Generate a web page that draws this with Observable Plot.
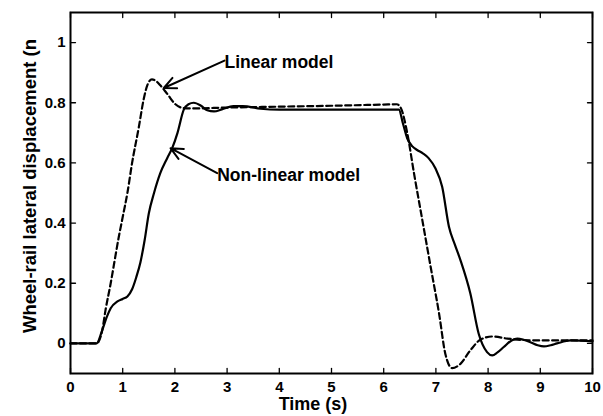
<!DOCTYPE html>
<html>
<head>
<meta charset="utf-8">
<script src="https://cdn.jsdelivr.net/npm/d3@7"></script>
<script src="https://cdn.jsdelivr.net/npm/@observablehq/plot@0.6"></script>
<style>
  html, body { margin: 0; padding: 0; background: #fff; }
  #chart { width: 603px; height: 416px; }
</style>
</head>
<body>
<div id="chart"></div>
<script>
// Linear model (dashed)
const linearT = [0, 0.5, 0.61, 0.67, 0.77, 0.86, 0.91, 1.0, 1.09, 1.18, 1.31, 1.40, 1.48, 1.56, 1.64, 1.72, 1.85, 2.01, 2.14, 2.3, 3.0, 4.0, 5.0, 6.0, 6.25, 6.33, 6.45, 6.58, 6.74, 6.90, 7.06, 7.18, 7.31, 7.47, 7.66, 7.85, 8.08, 8.37, 8.62, 9.0, 9.5, 10];
const linearY = [0, 0, 0.045, 0.11, 0.2, 0.29, 0.34, 0.42, 0.5, 0.6, 0.72, 0.81, 0.862, 0.878, 0.872, 0.858, 0.83, 0.795, 0.783, 0.781, 0.784, 0.787, 0.79, 0.794, 0.795, 0.782, 0.70, 0.566, 0.41, 0.254, 0.10, -0.034, -0.082, -0.068, -0.023, 0.012, 0.023, 0.016, 0.012, 0.01, 0.01, 0.01];

// Non-linear model (solid)
const nonlinT = [0, 0.5, 0.6, 0.7, 0.77, 0.9, 1.0, 1.09, 1.18, 1.26, 1.34, 1.42, 1.50, 1.6, 1.72, 1.85, 1.95, 2.05, 2.17, 2.26, 2.36, 2.5, 2.62, 2.75, 2.9, 3.12, 3.3, 3.64, 4.0, 5.0, 6.0, 6.29, 6.37, 6.45, 6.55, 6.64, 6.75, 6.86, 6.99, 7.12, 7.25, 7.36, 7.47, 7.66, 7.82, 7.98, 8.08, 8.18, 8.30, 8.45, 8.56, 8.68, 8.81, 8.95, 9.07, 9.2, 9.32, 9.58, 10];
const nonlinY = [0, 0, 0.04, 0.09, 0.117, 0.14, 0.148, 0.156, 0.18, 0.22, 0.27, 0.343, 0.432, 0.50, 0.566, 0.615, 0.65, 0.70, 0.777, 0.795, 0.80, 0.79, 0.775, 0.771, 0.778, 0.789, 0.789, 0.78, 0.777, 0.777, 0.777, 0.777, 0.73, 0.682, 0.655, 0.643, 0.632, 0.616, 0.582, 0.521, 0.388, 0.33, 0.277, 0.166, 0.032, -0.029, -0.04, -0.03, -0.012, 0.01, 0.016, 0.012, 0.004, -0.006, -0.01, -0.006, 0, 0.01, 0.007];

// Axis ticks and labels
const xTicks = [0, 1, 2, 3, 4, 5, 6, 7, 8, 9, 10];
const yTicks = [0, 0.2, 0.4, 0.6, 0.8, 1];
const xLabel = "Time (s)";
const yLabel = "Wheel-rail lateral displacement (n";

// Annotations
const annText = ["Linear model", "Non-linear model"];
const annX = [2.95, 2.81];
const annY = [0.934, 0.558];
const arrowX1 = [2.95, 2.81];
const arrowY1 = [0.94, 0.566];
const arrowX2 = [1.787, 1.916];
const arrowY2 = [0.849, 0.649];

const linear = linearT.map((t, i) => ({t, v: linearY[i]}));
const nonlin = nonlinT.map((t, i) => ({t, v: nonlinY[i]}));
const ann = annText.map((s, i) => ({s, x: annX[i], y: annY[i]}));
const arrows = arrowX1.map((x1, i) => ({x1, y1: arrowY1[i], x2: arrowX2[i], y2: arrowY2[i]}));

const tickShape = {draw(ctx, l) { ctx.moveTo(0, 0); ctx.lineTo(0, -l); }};
const tickOpts = {length: 5, anchor: "start", shape: tickShape, stroke: "black", strokeWidth: 1.3};

const plot = Plot.plot({
  width: 603,
  height: 416,
  marginLeft: 70,
  marginRight: 11,
  marginTop: 12,
  marginBottom: 43,
  style: {fontFamily: "'Liberation Sans', Arial, sans-serif", fontSize: "15px", fontWeight: "bold", background: "#fff", color: "#000"},
  x: {domain: [0, 10]},
  y: {domain: [-0.1, 1.1]},
  marks: [
    Plot.axisX({ticks: xTicks, tickSize: 0, tickPadding: 8, label: null, tickFormat: d => String(d)}),
    Plot.axisY({ticks: yTicks, tickSize: 0, tickPadding: 5, label: null, tickFormat: d => String(d)}),
    Plot.vector(xTicks, {x: d => d, frameAnchor: "bottom", rotate: 0, ...tickOpts}),
    Plot.vector(xTicks, {x: d => d, frameAnchor: "top", rotate: 180, ...tickOpts}),
    Plot.vector(yTicks, {y: d => d, frameAnchor: "left", rotate: 90, ...tickOpts}),
    Plot.vector(yTicks, {y: d => d, frameAnchor: "right", rotate: -90, ...tickOpts}),
    Plot.line(linear, {x: "t", y: "v", stroke: "black", strokeWidth: 2.2, strokeDasharray: "6,3.5", curve: "monotone-x"}),
    Plot.line(nonlin, {x: "t", y: "v", stroke: "black", strokeWidth: 2.2, curve: "monotone-x"}),
    Plot.arrow(arrows, {x1: "x1", y1: "y1", x2: "x2", y2: "y2", stroke: "black", strokeWidth: 2, headLength: 10, headAngle: 50}),
    Plot.text(ann, {x: "x", y: "y", text: "s", textAnchor: "start", fontSize: 17.5, fontWeight: "bold", fill: "black"}),
    Plot.text([xLabel], {frameAnchor: "bottom", textAnchor: "middle", dx: -18.5, dy: 36, lineAnchor: "bottom", fontSize: 18, fontWeight: "bold", fill: "black"}),
    Plot.text([yLabel], {frameAnchor: "left", textAnchor: "middle", rotate: -90, dx: -35, dy: -7, lineAnchor: "bottom", fontSize: 18.5, fontWeight: "bold", fill: "black"}),
    Plot.frame({stroke: "black", strokeWidth: 2})
  ]
});
document.getElementById("chart").appendChild(plot);
</script>
</body>
</html>
